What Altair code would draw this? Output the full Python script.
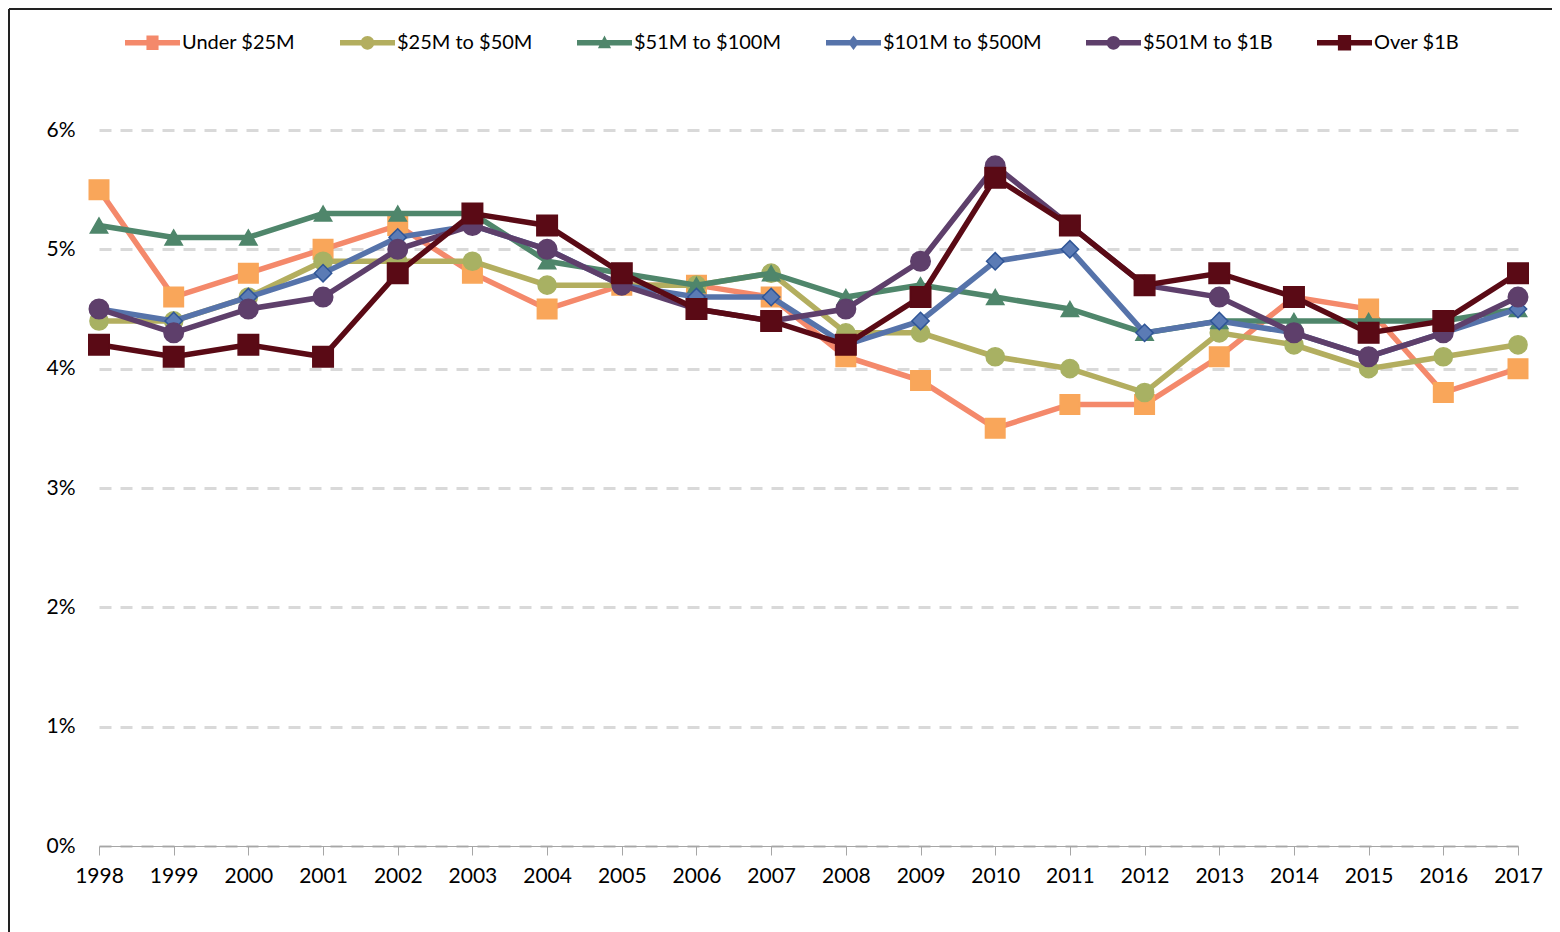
import altair as alt
import pandas as pd

years = list(range(1998, 2018))
series_names = ["Under $25M", "$25M to $50M", "$51M to $100M",
                "$101M to $500M", "$501M to $1B", "Over  $1B"]

under_25m = [5.5, 4.6, 4.8, 5.0, 5.2, 4.8, 4.5, 4.7, 4.7, 4.6, 4.1, 3.9, 3.5, 3.7, 3.7, 4.1, 4.6, 4.5, 3.8, 4.0]
m25_50 = [4.4, 4.4, 4.6, 4.9, 4.9, 4.9, 4.7, 4.7, 4.7, 4.8, 4.3, 4.3, 4.1, 4.0, 3.8, 4.3, 4.2, 4.0, 4.1, 4.2]
m51_100 = [5.2, 5.1, 5.1, 5.3, 5.3, 5.3, 4.9, 4.8, 4.7, 4.8, 4.6, 4.7, 4.6, 4.5, 4.3, 4.4, 4.4, 4.4, 4.4, 4.5]
m101_500 = [4.5, 4.4, 4.6, 4.8, 5.1, 5.2, 5.0, 4.7, 4.6, 4.6, 4.2, 4.4, 4.9, 5.0, 4.3, 4.4, 4.3, 4.1, 4.3, 4.5]
m501_1b = [4.5, 4.3, 4.5, 4.6, 5.0, 5.2, 5.0, 4.7, 4.5, 4.4, 4.5, 4.9, 5.7, 5.2, 4.7, 4.6, 4.3, 4.1, 4.3, 4.6]
over_1b = [4.2, 4.1, 4.2, 4.1, 4.8, 5.3, 5.2, 4.8, 4.5, 4.4, 4.2, 4.6, 5.6, 5.2, 4.7, 4.8, 4.6, 4.3, 4.4, 4.8]

all_values = [under_25m, m25_50, m51_100, m101_500, m501_1b, over_1b]

line_colors = ["#F4896B", "#B3AE5F", "#4F866B", "#5673AA", "#5E3F6B", "#5A0A15"]
marker_fill = ["#F9A65A", "#A8B163", "#4F866B", "#5B7BB5", "#5E3F6B", "#5A0A15"]
marker_stroke = ["#F9A65A", "#A8B163", "#4F866B", "#2F5597", "#5E3F6B", "#5A0A15"]
marker_shape = ["square", "circle", "triangle-up", "diamond", "circle", "square"]
marker_size = [380, 330, 300, 300, 380, 420]

# legend symbols: a horizontal line with a marker in the middle (all clockwise)
bar = "M-1,-0.1H1V0.1H-1Z"
circ = " M-0.25,0A0.25,0.25 0 1,1 0.25,0A0.25,0.25 0 1,1 -0.25,0Z"
legend_paths = [
    bar + " M-0.22,-0.26H0.22V0.26H-0.22Z",
    bar + circ,
    bar + " M0,-0.26L0.24,0.2H-0.24Z",
    bar + " M0,-0.26L0.2,0L0,0.26L-0.2,0Z",
    bar + circ,
    bar + " M-0.24,-0.28H0.24V0.28H-0.24Z",
]

rows = []
for name, vals in zip(series_names, all_values):
    for y, v in zip(years, vals):
        rows.append({"year": y, "series": name, "value": v / 100})
df = pd.DataFrame(rows)

x_enc = alt.X("year:Q", scale=alt.Scale(domain=[1998, 2017], nice=False, zero=False),
              axis=alt.Axis(values=years, format="d", title=None, grid=False,
                            domainColor="#A6A6A6", tickColor="#A6A6A6", tickSize=9,
                            labelPadding=10, labelFontSize=21, labelColor="#000000",
                            labelFont="Lato", domainWidth=1.2, labelFlush=False))
y_enc = alt.Y("value:Q", scale=alt.Scale(domain=[0, 0.06], nice=False),
              axis=alt.Axis(values=[0, 0.01, 0.02, 0.03, 0.04, 0.05, 0.06], format=".0%",
                            title=None, domain=False, ticks=False, labelPadding=24,
                            gridColor="#D9D9D9", gridDash=[12, 9], gridWidth=3,
                            labelFontSize=21, labelColor="#000000", labelFont="Lato"))

base = alt.Chart(df)

# legend-only layer (no data drawn)
legend_layer = base.mark_point(filled=True, opacity=1).encode(
    x=x_enc, y=y_enc,
    color=alt.Color("series:N", scale=alt.Scale(domain=series_names, range=line_colors),
                    legend=alt.Legend(title=None, orient="none", direction="horizontal",
                                      legendX=26, legendY=-115, symbolSize=3025,
                                      symbolStrokeWidth=0, labelFontSize=20,
                                      labelFont="Lato", labelColor="#000000",
                                      labelOffset=2, columnPadding=44, symbolOpacity=1,
                                      labelLimit=300)),
    shape=alt.Shape("series:N", scale=alt.Scale(domain=series_names, range=legend_paths)),
).transform_filter("datum.value < 0")

# outer frame (decoration)
frame_top = alt.Chart(df).mark_rule(color="#222222", strokeWidth=2).encode(
    x=alt.value(-90), x2=alt.value(1461), y=alt.value(-121))
frame_left = alt.Chart(df).mark_rule(color="#222222", strokeWidth=2).encode(
    x=alt.value(-90), y=alt.value(-121), y2=alt.value(802))

layers = [frame_top, frame_left, legend_layer]
for i, name in enumerate(series_names):
    sub = base.transform_filter(alt.datum.series == name)
    line = sub.mark_line(strokeWidth=5.5, color=line_colors[i]).encode(x=x_enc, y=y_enc)
    pts = sub.mark_point(filled=True, shape=marker_shape[i], size=marker_size[i],
                         fill=marker_fill[i], stroke=marker_stroke[i], strokeWidth=1.5,
                         opacity=1).encode(x=x_enc, y=y_enc)
    layers += [line, pts]

chart = alt.layer(*layers).properties(
    width=1419, height=716,
    autosize=alt.AutoSizeParams(type="none"),
    padding={"left": 91, "top": 122, "right": 34, "bottom": 90},
).configure(background="#FFFFFF").configure_view(stroke=None)

chart.save("out.html", embed_options={"renderer": "svg", "actions": False})
